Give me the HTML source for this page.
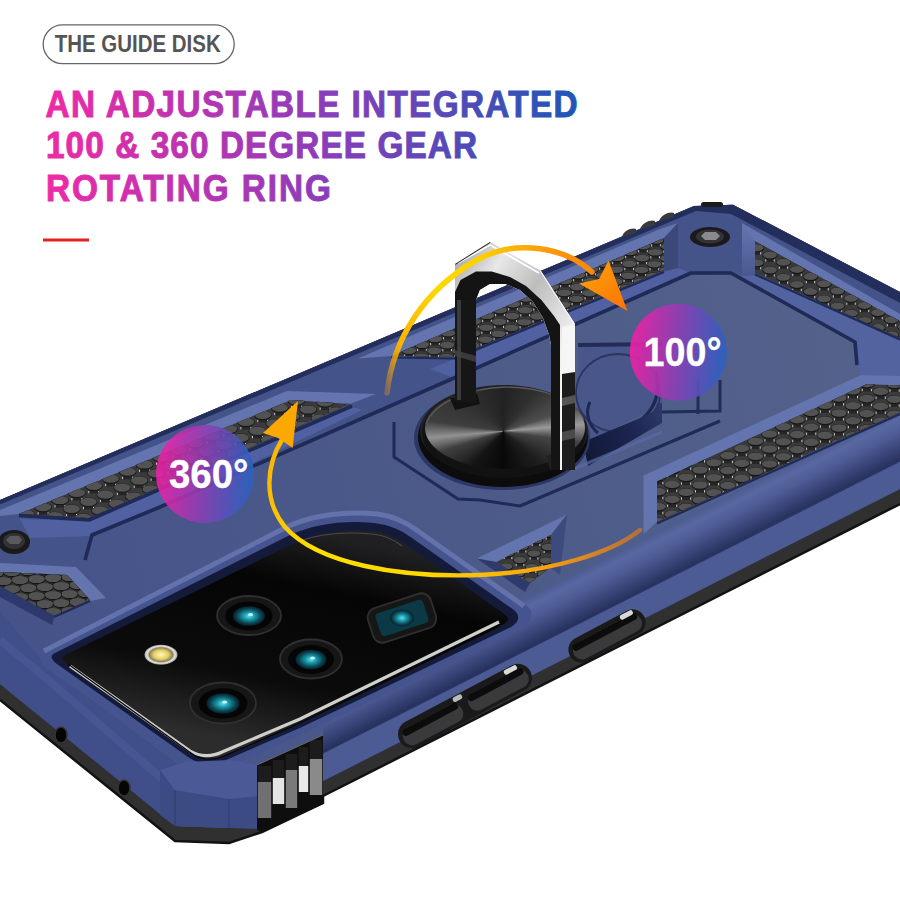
<!DOCTYPE html>
<html><head><meta charset="utf-8">
<style>
html,body{margin:0;padding:0;background:#fff;}
body{width:900px;height:900px;overflow:hidden;}
svg{display:block;font-family:"Liberation Sans",sans-serif;}
</style></head>
<body>
<svg width="900" height="900" viewBox="0 0 900 900">
<defs>
  <linearGradient id="tg" gradientUnits="userSpaceOnUse" x1="51.1" y1="0" x2="642.2" y2="0">
    <stop offset="0" stop-color="#ef2aa6"/>
    <stop offset="0.5" stop-color="#8f3cba"/>
    <stop offset="1" stop-color="#1f56b6"/>
  </linearGradient>
  <linearGradient id="cg" x1="0" y1="0.45" x2="1" y2="0.55">
    <stop offset="0.05" stop-color="#ea22a6"/>
    <stop offset="0.5" stop-color="#8a3fb5"/>
    <stop offset="0.95" stop-color="#2f60c0"/>
  </linearGradient>
  <pattern id="hex" patternUnits="userSpaceOnUse" width="27.8" height="15.0" patternTransform="translate(0,0)"><rect width="27.8" height="15.0" fill="#232323"/><path d="M-7.20,-7.50 L-5.40,-2.30 L5.40,-2.30 L7.20,-7.50 Z" fill="#3a3a3a"/><rect x="-5.80" y="-4.50" width="0.9" height="2.4" fill="#d8d8d8"/><rect x="4.90" y="-4.50" width="0.9" height="2.4" fill="#d8d8d8"/><ellipse cx="0.00" cy="-7.50" rx="7.7" ry="4.1" fill="#595959"/><path d="M20.60,-7.50 L22.40,-2.30 L33.20,-2.30 L35.00,-7.50 Z" fill="#3a3a3a"/><rect x="22.00" y="-4.50" width="0.9" height="2.4" fill="#d8d8d8"/><rect x="32.70" y="-4.50" width="0.9" height="2.4" fill="#d8d8d8"/><ellipse cx="27.80" cy="-7.50" rx="7.7" ry="4.1" fill="#595959"/><path d="M6.70,0.00 L8.50,5.20 L19.30,5.20 L21.10,0.00 Z" fill="#3a3a3a"/><rect x="8.10" y="3.00" width="0.9" height="2.4" fill="#d8d8d8"/><rect x="18.80" y="3.00" width="0.9" height="2.4" fill="#d8d8d8"/><ellipse cx="13.90" cy="0.00" rx="7.7" ry="4.1" fill="#595959"/><path d="M-7.20,7.50 L-5.40,12.70 L5.40,12.70 L7.20,7.50 Z" fill="#3a3a3a"/><rect x="-5.80" y="10.50" width="0.9" height="2.4" fill="#d8d8d8"/><rect x="4.90" y="10.50" width="0.9" height="2.4" fill="#d8d8d8"/><ellipse cx="0.00" cy="7.50" rx="7.7" ry="4.1" fill="#595959"/><path d="M20.60,7.50 L22.40,12.70 L33.20,12.70 L35.00,7.50 Z" fill="#3a3a3a"/><rect x="22.00" y="10.50" width="0.9" height="2.4" fill="#d8d8d8"/><rect x="32.70" y="10.50" width="0.9" height="2.4" fill="#d8d8d8"/><ellipse cx="27.80" cy="7.50" rx="7.7" ry="4.1" fill="#595959"/><path d="M6.70,15.00 L8.50,20.20 L19.30,20.20 L21.10,15.00 Z" fill="#3a3a3a"/><rect x="8.10" y="18.00" width="0.9" height="2.4" fill="#d8d8d8"/><rect x="18.80" y="18.00" width="0.9" height="2.4" fill="#d8d8d8"/><ellipse cx="13.90" cy="15.00" rx="7.7" ry="4.1" fill="#595959"/></pattern>
  <pattern id="hex2" patternUnits="userSpaceOnUse" width="27.8" height="15.0" patternTransform="translate(3,2)"><rect width="27.8" height="15.0" fill="#232323"/><path d="M-7.20,-7.50 L-5.40,-2.30 L5.40,-2.30 L7.20,-7.50 Z" fill="#3a3a3a"/><rect x="-5.80" y="-4.50" width="0.9" height="2.4" fill="#d8d8d8"/><rect x="4.90" y="-4.50" width="0.9" height="2.4" fill="#d8d8d8"/><ellipse cx="0.00" cy="-7.50" rx="7.7" ry="4.1" fill="#595959"/><path d="M20.60,-7.50 L22.40,-2.30 L33.20,-2.30 L35.00,-7.50 Z" fill="#3a3a3a"/><rect x="22.00" y="-4.50" width="0.9" height="2.4" fill="#d8d8d8"/><rect x="32.70" y="-4.50" width="0.9" height="2.4" fill="#d8d8d8"/><ellipse cx="27.80" cy="-7.50" rx="7.7" ry="4.1" fill="#595959"/><path d="M6.70,0.00 L8.50,5.20 L19.30,5.20 L21.10,0.00 Z" fill="#3a3a3a"/><rect x="8.10" y="3.00" width="0.9" height="2.4" fill="#d8d8d8"/><rect x="18.80" y="3.00" width="0.9" height="2.4" fill="#d8d8d8"/><ellipse cx="13.90" cy="0.00" rx="7.7" ry="4.1" fill="#595959"/><path d="M-7.20,7.50 L-5.40,12.70 L5.40,12.70 L7.20,7.50 Z" fill="#3a3a3a"/><rect x="-5.80" y="10.50" width="0.9" height="2.4" fill="#d8d8d8"/><rect x="4.90" y="10.50" width="0.9" height="2.4" fill="#d8d8d8"/><ellipse cx="0.00" cy="7.50" rx="7.7" ry="4.1" fill="#595959"/><path d="M20.60,7.50 L22.40,12.70 L33.20,12.70 L35.00,7.50 Z" fill="#3a3a3a"/><rect x="22.00" y="10.50" width="0.9" height="2.4" fill="#d8d8d8"/><rect x="32.70" y="10.50" width="0.9" height="2.4" fill="#d8d8d8"/><ellipse cx="27.80" cy="7.50" rx="7.7" ry="4.1" fill="#595959"/><path d="M6.70,15.00 L8.50,20.20 L19.30,20.20 L21.10,15.00 Z" fill="#3a3a3a"/><rect x="8.10" y="18.00" width="0.9" height="2.4" fill="#d8d8d8"/><rect x="18.80" y="18.00" width="0.9" height="2.4" fill="#d8d8d8"/><ellipse cx="13.90" cy="15.00" rx="7.7" ry="4.1" fill="#595959"/></pattern>
  <linearGradient id="faceg" gradientUnits="userSpaceOnUse" x1="0" y1="600" x2="900" y2="350">
    <stop offset="0" stop-color="#45538a"/>
    <stop offset="0.5" stop-color="#4c5a89"/>
    <stop offset="1" stop-color="#54628b"/>
  </linearGradient>
  <linearGradient id="sideg" gradientUnits="userSpaceOnUse" x1="600" y1="559.9" x2="620.9" y2="601.3">
    <stop offset="0" stop-color="#4b5990"/>
    <stop offset="0.2" stop-color="#5a68a2"/>
    <stop offset="0.45" stop-color="#4e5c95"/>
    <stop offset="1" stop-color="#27315f"/>
  </linearGradient>
  <linearGradient id="glassg" gradientUnits="userSpaceOnUse" x1="300" y1="530" x2="255" y2="745">
    <stop offset="0" stop-color="#202022"/>
    <stop offset="0.25" stop-color="#050505"/>
    <stop offset="0.7" stop-color="#0b0b0b"/>
    <stop offset="1" stop-color="#2c2c2c"/>
  </linearGradient>
  <radialGradient id="lensg">
    <stop offset="0" stop-color="#5fe0ee"/>
    <stop offset="0.35" stop-color="#1b9aac"/>
    <stop offset="0.75" stop-color="#0a4654"/>
    <stop offset="1" stop-color="#06202a"/>
  </radialGradient>
  <radialGradient id="flashg">
    <stop offset="0" stop-color="#fff8c0"/>
    <stop offset="0.45" stop-color="#e6d060"/>
    <stop offset="0.7" stop-color="#8a8060"/>
    <stop offset="0.85" stop-color="#e8e8e0"/>
    <stop offset="1" stop-color="#9a9a9a"/>
  </radialGradient>
  <linearGradient id="a1g" gradientUnits="userSpaceOnUse" x1="387" y1="392" x2="620" y2="290">
    <stop offset="0" stop-color="#f7a000" stop-opacity="0.3"/>
    <stop offset="0.12" stop-color="#f9b400"/>
    <stop offset="0.35" stop-color="#ffd800"/>
    <stop offset="0.55" stop-color="#fdd000"/>
    <stop offset="0.8" stop-color="#fb9a0a"/>
    <stop offset="1" stop-color="#fb7d0a"/>
  </linearGradient>
  <linearGradient id="a2g" gradientUnits="userSpaceOnUse" x1="270" y1="420" x2="640" y2="540">
    <stop offset="0" stop-color="#fbb000"/>
    <stop offset="0.22" stop-color="#ffe000"/>
    <stop offset="0.5" stop-color="#ffd800"/>
    <stop offset="0.8" stop-color="#f8a010"/>
    <stop offset="1" stop-color="#f07a10" stop-opacity="0.6"/>
  </linearGradient>
  <linearGradient id="wallg" gradientUnits="userSpaceOnUse" x1="585" y1="450" x2="662" y2="415">
    <stop offset="0" stop-color="#121938"/>
    <stop offset="0.6" stop-color="#1c2550"/>
    <stop offset="1" stop-color="#2d3868"/>
  </linearGradient>
  <linearGradient id="ahg" gradientUnits="userSpaceOnUse" x1="590" y1="272" x2="627" y2="311">
    <stop offset="0" stop-color="#fd9a08"/>
    <stop offset="1" stop-color="#fb7206"/>
  </linearGradient>
  <linearGradient id="trwall" x1="0" y1="0" x2="0" y2="1">
    <stop offset="0" stop-color="#6676b0"/>
    <stop offset="1" stop-color="#4a5890"/>
  </linearGradient>
  <linearGradient id="silv" gradientUnits="userSpaceOnUse" x1="455" y1="250" x2="575" y2="330">
    <stop offset="0" stop-color="#a0a0a0"/>
    <stop offset="0.3" stop-color="#e8e8e8"/>
    <stop offset="0.6" stop-color="#bdbdbd"/>
    <stop offset="1" stop-color="#f2f2f2"/>
  </linearGradient>
<g id="dTL"><path d="M-6.23,0 L-4.57,7.70 L4.57,7.70 L6.23,0 Z" fill="#262626"/><rect x="-5.43" y="5.10" width="0.9" height="2.3" fill="#dadada"/><rect x="4.53" y="5.10" width="0.9" height="2.3" fill="#dadada"/><ellipse cx="0" cy="0.4" rx="8.90" ry="4.70" fill="#151515"/><ellipse cx="0" cy="0" rx="8.30" ry="4.10" fill="#525252"/></g><g id="dM"><path d="M-5.40,0 L-3.96,6.50 L3.96,6.50 L5.40,0 Z" fill="#262626"/><rect x="-4.77" y="3.90" width="0.9" height="2.3" fill="#dadada"/><rect x="3.87" y="3.90" width="0.9" height="2.3" fill="#dadada"/><ellipse cx="0" cy="0.4" rx="7.80" ry="3.90" fill="#151515"/><ellipse cx="0" cy="0" rx="7.20" ry="3.30" fill="#525252"/></g><g id="dR"><path d="M-5.70,0 L-4.18,7.80 L4.18,7.80 L5.70,0 Z" fill="#262626"/><rect x="-5.01" y="5.20" width="0.9" height="2.3" fill="#dadada"/><rect x="4.11" y="5.20" width="0.9" height="2.3" fill="#dadada"/><ellipse cx="0" cy="0.4" rx="8.20" ry="4.40" fill="#151515"/><ellipse cx="0" cy="0" rx="7.60" ry="3.80" fill="#525252"/></g><g id="dTR"><path d="M-5.25,0 L-3.85,6.90 L3.85,6.90 L5.25,0 Z" fill="#262626"/><rect x="-4.65" y="4.30" width="0.9" height="2.3" fill="#dadada"/><rect x="3.75" y="4.30" width="0.9" height="2.3" fill="#dadada"/><ellipse cx="0" cy="0.4" rx="7.60" ry="4.10" fill="#151515"/><ellipse cx="0" cy="0" rx="7.00" ry="3.50" fill="#525252"/></g><g id="dS"><path d="M-4.80,0 L-3.52,6.30 L3.52,6.30 L4.80,0 Z" fill="#262626"/><rect x="-4.29" y="3.70" width="0.9" height="2.3" fill="#dadada"/><rect x="3.39" y="3.70" width="0.9" height="2.3" fill="#dadada"/><ellipse cx="0" cy="0.4" rx="7.00" ry="3.90" fill="#151515"/><ellipse cx="0" cy="0" rx="6.40" ry="3.30" fill="#525252"/></g></defs>

<rect x="43.2" y="24.9" width="191" height="38.8" rx="19.4" fill="#fff" stroke="#666" stroke-width="1.3"/>
<text x="54.7" y="51.6" font-size="23.2" font-weight="bold" fill="#555" textLength="166" lengthAdjust="spacingAndGlyphs">THE GUIDE DISK</text>
<g font-size="37" font-weight="bold" fill="url(#tg)" stroke="url(#tg)" stroke-width="1.0" transform="scale(0.9,1)">
  <text x="50.67" y="116.7" textLength="591.11" lengthAdjust="spacing">AN ADJUSTABLE INTEGRATED</text>
  <text x="51.11" y="158.3" textLength="478.89" lengthAdjust="spacing">100 &amp; 360 DEGREE GEAR</text>
  <text x="51.11" y="200.6" textLength="316.67" lengthAdjust="spacing">ROTATING RING</text>
</g>
<rect x="43" y="238.5" width="46" height="3" fill="#e3201f"/>

<!-- silhouette / black bumper -->
<path d="M0,500 L694,206 L733,204.7 L900,292 L900,504 L323,796 L323,803 L262,832 L229,843 L175,841 L0,700 Z" fill="#303031"/>
<path d="M900,504 L323,796 L323,803 L262,832 L229,843 L175,841 L0,700" fill="none" stroke="#121212" stroke-width="2.5"/>
<!-- blue body -->
<path d="M0,500 L694,206 L733,204.7 L900,292 L900,489 L323,781 L262,800 L229,828 L175,826 L0,684 Z" fill="url(#faceg)"/>
<!-- side shading band along bottom -->
<path d="M900,409 L323,701 L323,781 L900,489 Z" fill="url(#sideg)"/>
<!-- lip -->
<path d="M900,461 L323,753 L323,781 L900,489 Z" fill="#4d5b95"/>
<path d="M900,461 L323,753" fill="none" stroke="#2c3666" stroke-width="1.2"/>
<!-- left side face -->
<path d="M0,612 L48,667 L178,764 L229,760 L262,765 L262,800 L229,828 L175,826 L0,684 Z" fill="#404e8a"/>
<path d="M0,640 L60,690 L175,790" fill="none" stroke="#4c5c98" stroke-width="8" opacity="0.6"/>
<!-- top rim: navy outline + medium band -->
<path d="M0,504.5 L696,211 L731,214 L900,303 L900,375.6 L861,375 L857,365 L855,342 L731,273 L691,273 L454,378 L160,507 L92,535 L85,560 L0,562 Z" fill="#45538b"/>
<path d="M0,500 L694,206 L733,204.7 L900,292 L900,303 L731,214 L696,211 L0,504.5 Z" fill="#242e5c"/>
<!-- light bevels -->
<g fill="#6474ae">
<path d="M0,510 L287,391 L376,394 L350,404 L291,400 L19,514 L0,516 Z"/>
<path d="M358,358.5 L660,229 L678,223 L664,238 L391,356 Z"/>
<path d="M742,223 L900,314 L900,321 L755,241 L742,240 Z"/>
<path d="M0,563 L76,567 L106,598 L90,601 L67,575 L0,572 Z"/>
<path d="M643.5,475.5 L861,375 L900,375.6 L900,385.5 L867,384 L657,481.5 L657,522 L643.5,534 Z"/>
<path d="M476.6,558.5 L567,514.5 L551,535 L496,562 Z"/>
</g>
<path d="M664,238 L678,223 L678,268 L664,270.5 Z" fill="#3b4878"/>
<path d="M742,223 L755,241 L755,273 L742,276 Z" fill="url(#trwall)"/>
<path d="M567,514.5 L560,575 L551,568 L551,535 Z" fill="#3d4a7e"/>
<path d="M476.6,558.5 L496,562 L530,583 L525,592 Z" fill="#2f3a6c"/>
<path d="M20,519 L89,521 L352,407 L362,410 L160,508 L92,536 L30,538 Z" fill="#5060a0"/>
<path d="M742,276 L755,275 L900,341 L900,375.6 L861,375 L857,365 L855,342 L732,272 Z" fill="#5363a0"/>
<path d="M430,369 L455,358.5 L664,272 L678,268 L691,273 L454,378 Z" fill="#5060a0"/>
<!-- hex strips -->
<clipPath id="cp_TL"><polygon points="19.00,514.00 291.00,400.00 350.00,404.00 89.00,518.00"/></clipPath><g clip-path="url(#cp_TL)"><polygon points="19.00,514.00 291.00,400.00 350.00,404.00 89.00,518.00" fill="#3a3a3a"/><use href="#dTL" x="296.6" y="400.6"/><use href="#dTL" x="325.1" y="402.4"/><use href="#dTL" x="353.6" y="404.2"/><use href="#dTL" x="279.7" y="407.7"/><use href="#dTL" x="308.2" y="409.5"/><use href="#dTL" x="336.7" y="411.3"/><use href="#dTL" x="262.8" y="414.8"/><use href="#dTL" x="291.3" y="416.6"/><use href="#dTL" x="319.8" y="418.4"/><use href="#dTL" x="245.9" y="421.9"/><use href="#dTL" x="274.4" y="423.7"/><use href="#dTL" x="302.9" y="425.5"/><use href="#dTL" x="229.0" y="429.0"/><use href="#dTL" x="257.5" y="430.8"/><use href="#dTL" x="286.0" y="432.6"/><use href="#dTL" x="212.1" y="436.1"/><use href="#dTL" x="240.6" y="437.9"/><use href="#dTL" x="269.1" y="439.7"/><use href="#dTL" x="195.2" y="443.2"/><use href="#dTL" x="223.7" y="445.0"/><use href="#dTL" x="252.2" y="446.8"/><use href="#dTL" x="178.3" y="450.3"/><use href="#dTL" x="206.8" y="452.1"/><use href="#dTL" x="235.3" y="453.9"/><use href="#dTL" x="161.4" y="457.4"/><use href="#dTL" x="189.9" y="459.2"/><use href="#dTL" x="218.4" y="461.0"/><use href="#dTL" x="144.5" y="464.5"/><use href="#dTL" x="173.0" y="466.3"/><use href="#dTL" x="201.5" y="468.1"/><use href="#dTL" x="127.6" y="471.6"/><use href="#dTL" x="156.1" y="473.4"/><use href="#dTL" x="184.6" y="475.2"/><use href="#dTL" x="110.7" y="478.7"/><use href="#dTL" x="139.2" y="480.5"/><use href="#dTL" x="167.7" y="482.3"/><use href="#dTL" x="93.8" y="485.8"/><use href="#dTL" x="122.3" y="487.6"/><use href="#dTL" x="150.8" y="489.4"/><use href="#dTL" x="76.9" y="492.9"/><use href="#dTL" x="105.4" y="494.7"/><use href="#dTL" x="133.9" y="496.5"/><use href="#dTL" x="60.0" y="500.0"/><use href="#dTL" x="88.5" y="501.8"/><use href="#dTL" x="117.0" y="503.6"/><use href="#dTL" x="43.1" y="507.1"/><use href="#dTL" x="71.6" y="508.9"/><use href="#dTL" x="100.1" y="510.7"/><use href="#dTL" x="26.2" y="514.2"/><use href="#dTL" x="54.7" y="516.0"/><use href="#dTL" x="83.2" y="517.8"/></g>
<clipPath id="cp_M"><polygon points="391.00,356.00 664.00,238.00 664.00,270.50 455.00,357.00"/></clipPath><g clip-path="url(#cp_M)"><polygon points="391.00,356.00 664.00,238.00 664.00,270.50 455.00,357.00" fill="#3a3a3a"/><use href="#dM" x="656.0" y="240.4"/><use href="#dM" x="643.0" y="246.2"/><use href="#dM" x="668.2" y="246.5"/><use href="#dM" x="630.0" y="252.0"/><use href="#dM" x="655.2" y="252.3"/><use href="#dM" x="617.0" y="257.8"/><use href="#dM" x="642.2" y="258.1"/><use href="#dM" x="667.4" y="258.4"/><use href="#dM" x="604.0" y="263.6"/><use href="#dM" x="629.2" y="263.9"/><use href="#dM" x="654.4" y="264.2"/><use href="#dM" x="591.0" y="269.4"/><use href="#dM" x="616.2" y="269.7"/><use href="#dM" x="641.4" y="270.0"/><use href="#dM" x="666.6" y="270.3"/><use href="#dM" x="578.0" y="275.2"/><use href="#dM" x="603.2" y="275.5"/><use href="#dM" x="628.4" y="275.8"/><use href="#dM" x="653.6" y="276.1"/><use href="#dM" x="565.0" y="281.0"/><use href="#dM" x="590.2" y="281.3"/><use href="#dM" x="615.4" y="281.6"/><use href="#dM" x="640.6" y="281.9"/><use href="#dM" x="552.0" y="286.8"/><use href="#dM" x="577.2" y="287.1"/><use href="#dM" x="602.4" y="287.4"/><use href="#dM" x="627.6" y="287.7"/><use href="#dM" x="539.0" y="292.6"/><use href="#dM" x="564.2" y="292.9"/><use href="#dM" x="589.4" y="293.2"/><use href="#dM" x="614.6" y="293.5"/><use href="#dM" x="526.0" y="298.4"/><use href="#dM" x="551.2" y="298.7"/><use href="#dM" x="576.4" y="299.0"/><use href="#dM" x="601.6" y="299.3"/><use href="#dM" x="513.0" y="304.2"/><use href="#dM" x="538.2" y="304.5"/><use href="#dM" x="563.4" y="304.8"/><use href="#dM" x="588.6" y="305.1"/><use href="#dM" x="500.0" y="310.0"/><use href="#dM" x="525.2" y="310.3"/><use href="#dM" x="550.4" y="310.6"/><use href="#dM" x="487.0" y="315.8"/><use href="#dM" x="512.2" y="316.1"/><use href="#dM" x="537.4" y="316.4"/><use href="#dM" x="474.0" y="321.6"/><use href="#dM" x="499.2" y="321.9"/><use href="#dM" x="524.4" y="322.2"/><use href="#dM" x="461.0" y="327.4"/><use href="#dM" x="486.2" y="327.7"/><use href="#dM" x="511.4" y="328.0"/><use href="#dM" x="448.0" y="333.2"/><use href="#dM" x="473.2" y="333.5"/><use href="#dM" x="498.4" y="333.8"/><use href="#dM" x="435.0" y="339.0"/><use href="#dM" x="460.2" y="339.3"/><use href="#dM" x="485.4" y="339.6"/><use href="#dM" x="422.0" y="344.8"/><use href="#dM" x="447.2" y="345.1"/><use href="#dM" x="472.4" y="345.4"/><use href="#dM" x="409.0" y="350.6"/><use href="#dM" x="434.2" y="350.9"/><use href="#dM" x="459.4" y="351.2"/><use href="#dM" x="421.2" y="356.7"/><use href="#dM" x="446.4" y="357.0"/></g>
<clipPath id="cp_R"><polygon points="657.00,481.50 867.00,384.00 900.00,385.50 900.00,412.50 657.00,522.00"/></clipPath><g clip-path="url(#cp_R)"><polygon points="657.00,481.50 867.00,384.00 900.00,385.50 900.00,412.50 657.00,522.00" fill="#3a3a3a"/><use href="#dR" x="866.8" y="383.6"/><use href="#dR" x="894.6" y="384.2"/><use href="#dR" x="852.9" y="390.8"/><use href="#dR" x="880.7" y="391.4"/><use href="#dR" x="839.0" y="398.0"/><use href="#dR" x="866.8" y="398.6"/><use href="#dR" x="894.6" y="399.2"/><use href="#dR" x="825.1" y="405.2"/><use href="#dR" x="852.9" y="405.8"/><use href="#dR" x="880.7" y="406.4"/><use href="#dR" x="811.2" y="412.4"/><use href="#dR" x="839.0" y="413.0"/><use href="#dR" x="866.8" y="413.6"/><use href="#dR" x="894.6" y="414.2"/><use href="#dR" x="797.3" y="419.6"/><use href="#dR" x="825.1" y="420.2"/><use href="#dR" x="852.9" y="420.8"/><use href="#dR" x="880.7" y="421.4"/><use href="#dR" x="783.4" y="426.8"/><use href="#dR" x="811.2" y="427.4"/><use href="#dR" x="839.0" y="428.0"/><use href="#dR" x="866.8" y="428.6"/><use href="#dR" x="769.5" y="434.0"/><use href="#dR" x="797.3" y="434.6"/><use href="#dR" x="825.1" y="435.2"/><use href="#dR" x="852.9" y="435.8"/><use href="#dR" x="755.6" y="441.2"/><use href="#dR" x="783.4" y="441.8"/><use href="#dR" x="811.2" y="442.4"/><use href="#dR" x="839.0" y="443.0"/><use href="#dR" x="741.7" y="448.4"/><use href="#dR" x="769.5" y="449.0"/><use href="#dR" x="797.3" y="449.6"/><use href="#dR" x="700.0" y="455.0"/><use href="#dR" x="727.8" y="455.6"/><use href="#dR" x="755.6" y="456.2"/><use href="#dR" x="783.4" y="456.8"/><use href="#dR" x="686.1" y="462.2"/><use href="#dR" x="713.9" y="462.8"/><use href="#dR" x="741.7" y="463.4"/><use href="#dR" x="769.5" y="464.0"/><use href="#dR" x="672.2" y="469.4"/><use href="#dR" x="700.0" y="470.0"/><use href="#dR" x="727.8" y="470.6"/><use href="#dR" x="755.6" y="471.2"/><use href="#dR" x="658.3" y="476.6"/><use href="#dR" x="686.1" y="477.2"/><use href="#dR" x="713.9" y="477.8"/><use href="#dR" x="741.7" y="478.4"/><use href="#dR" x="672.2" y="484.4"/><use href="#dR" x="700.0" y="485.0"/><use href="#dR" x="727.8" y="485.6"/><use href="#dR" x="658.3" y="491.6"/><use href="#dR" x="686.1" y="492.2"/><use href="#dR" x="713.9" y="492.8"/><use href="#dR" x="672.2" y="499.4"/><use href="#dR" x="700.0" y="500.0"/><use href="#dR" x="658.3" y="506.6"/><use href="#dR" x="686.1" y="507.2"/><use href="#dR" x="672.2" y="514.4"/><use href="#dR" x="658.3" y="521.6"/></g>
<clipPath id="cp_TR"><polygon points="755.00,241.00 900.00,321.00 900.00,338.00 755.00,273.00"/></clipPath><g clip-path="url(#cp_TR)"><polygon points="755.00,241.00 900.00,321.00 900.00,338.00 755.00,273.00" fill="#3a3a3a"/><use href="#dTR" x="756.5" y="247.8"/><use href="#dTR" x="770.0" y="255.0"/><use href="#dTR" x="783.5" y="262.2"/><use href="#dTR" x="756.5" y="262.8"/><use href="#dTR" x="797.0" y="269.4"/><use href="#dTR" x="770.0" y="270.0"/><use href="#dTR" x="810.5" y="276.6"/><use href="#dTR" x="783.5" y="277.2"/><use href="#dTR" x="824.0" y="283.8"/><use href="#dTR" x="797.0" y="284.4"/><use href="#dTR" x="837.5" y="291.0"/><use href="#dTR" x="810.5" y="291.6"/><use href="#dTR" x="851.0" y="298.2"/><use href="#dTR" x="824.0" y="298.8"/><use href="#dTR" x="864.5" y="305.4"/><use href="#dTR" x="837.5" y="306.0"/><use href="#dTR" x="878.0" y="312.6"/><use href="#dTR" x="851.0" y="313.2"/><use href="#dTR" x="891.5" y="319.8"/><use href="#dTR" x="864.5" y="320.4"/><use href="#dTR" x="905.0" y="327.0"/><use href="#dTR" x="878.0" y="327.6"/><use href="#dTR" x="891.5" y="334.8"/></g>
<clipPath id="cp_LL"><polygon points="0.00,572.00 67.00,575.00 90.00,600.00 54.00,616.00 0.00,588.00"/></clipPath><g clip-path="url(#cp_LL)"><polygon points="0.00,572.00 67.00,575.00 90.00,600.00 54.00,616.00 0.00,588.00" fill="#3a3a3a"/><use href="#dTL" x="61.2" y="569.0"/><use href="#dTL" x="44.8" y="570.0"/><use href="#dTL" x="28.2" y="571.0"/><use href="#dTL" x="11.8" y="572.0"/><use href="#dTL" x="-4.8" y="573.0"/><use href="#dTL" x="69.5" y="577.0"/><use href="#dTL" x="53.0" y="578.0"/><use href="#dTL" x="36.5" y="579.0"/><use href="#dTL" x="20.0" y="580.0"/><use href="#dTL" x="3.5" y="581.0"/><use href="#dTL" x="77.8" y="585.0"/><use href="#dTL" x="61.2" y="586.0"/><use href="#dTL" x="44.8" y="587.0"/><use href="#dTL" x="28.2" y="588.0"/><use href="#dTL" x="11.8" y="589.0"/><use href="#dTL" x="86.0" y="593.0"/><use href="#dTL" x="69.5" y="594.0"/><use href="#dTL" x="53.0" y="595.0"/><use href="#dTL" x="36.5" y="596.0"/><use href="#dTL" x="20.0" y="597.0"/><use href="#dTL" x="94.2" y="601.0"/><use href="#dTL" x="77.8" y="602.0"/><use href="#dTL" x="61.2" y="603.0"/><use href="#dTL" x="44.8" y="604.0"/><use href="#dTL" x="28.2" y="605.0"/><use href="#dTL" x="69.5" y="611.0"/><use href="#dTL" x="53.0" y="612.0"/></g>
<clipPath id="cp_S"><polygon points="496.00,562.00 551.00,535.00 551.00,567.00 530.00,583.00"/></clipPath><g clip-path="url(#cp_S)"><polygon points="496.00,562.00 551.00,535.00 551.00,567.00 530.00,583.00" fill="#3a3a3a"/><use href="#dS" x="550.0" y="533.5"/><use href="#dS" x="536.0" y="540.0"/><use href="#dS" x="522.0" y="546.5"/><use href="#dS" x="548.0" y="547.0"/><use href="#dS" x="508.0" y="553.0"/><use href="#dS" x="534.0" y="553.5"/><use href="#dS" x="520.0" y="560.0"/><use href="#dS" x="546.0" y="560.5"/><use href="#dS" x="506.0" y="566.5"/><use href="#dS" x="532.0" y="567.0"/><use href="#dS" x="518.0" y="573.5"/><use href="#dS" x="544.0" y="574.0"/><use href="#dS" x="530.0" y="580.5"/></g>
<!-- grooves -->
<g fill="none" stroke="#1f2a56" stroke-width="2.2" stroke-linejoin="round">
<path d="M19,515.5 L89,520 L352,406" stroke-width="3.6"/>
<path d="M391,357.5 L455,358.5 L664,272"/>
<path d="M755,274.5 L900,339.5"/>
<path d="M657,523.5 L900,414"/>
<path d="M54,617 L90,601"/>
<path d="M0,586 L55,616 L52,625 L0,597 Z" fill="#2d386c" stroke="none"/>

<path d="M85,560 L92,535 L160,507 L454,378 L691,273 L731,273 L855,342 L857,365" stroke-width="3.6"/>

<path d="M394,422 L394,457 L458,499 L480,500" stroke-width="3"/>
<path d="M480,500 L520,506 L720,421" stroke-width="3"/>

</g>
<!-- ===== camera bump ===== -->
<path d="M42,651 L281,529 C310,513 350,510 378,513 C396,515 408,521 420,530 L527,606 C535,612 532,622 522,629 L304,733 L228,768 C214,774 196,773 184,764 L46,668 C40,663 38,655 42,651 Z" fill="#45548f"/>
<path d="M44,651 L283,529 C311,514 349,511 377,514 C394,516 406,522 418,531 L524,606" fill="none" stroke="#6472ab" stroke-width="5"/>
<path d="M53,654 L286,537 C313,523 347,520 374,523 C390,525 401,530 412,538 L514,610 C521,616 519,622 511,627 L302,727 L226,760 C214,766 199,765 188,757 L57,664 C52,660 50,657 53,654 Z" fill="#141b3a"/>
<path d="M63,656 L290,545 C315,532 345,529 372,531 C385,532 395,537 405,544 L503,613 C511,619 509,622 500,626 L300,723 L224,756 C213,761 200,760 191,753 L68,664 C62,660 60,658 63,656 Z" fill="url(#glassg)"/>
<path d="M70,666 L190,751 C200,757 212,757 222,752 L300,719 L499,622" fill="none" stroke="#cfcfcb" stroke-width="3.2"/><path d="M68,664 L191,753 C200,760 213,761 224,756 L300,723 L500,626" fill="none" stroke="#050505" stroke-width="1.2"/>
<path d="M300,541 C322,533 350,532 372,534 C385,535 393,539 402,546" fill="none" stroke="#4a4a4c" stroke-width="1.2"/>
<!-- lenses -->
<g>
<ellipse cx="249" cy="615.5" rx="32" ry="19.5" fill="#161616" stroke="#303030" stroke-width="1.8"/><ellipse cx="249" cy="616.0" rx="23.7" ry="14.4" fill="#050505"/><ellipse cx="249" cy="616.0" rx="16.0" ry="9.8" fill="url(#lensg)"/><ellipse cx="250.6" cy="614.5" rx="2.6" ry="1.6" fill="#e8ffff" opacity="0.8"/>
<ellipse cx="311" cy="659" rx="31" ry="19.5" fill="#161616" stroke="#303030" stroke-width="1.8"/><ellipse cx="311" cy="659.5" rx="22.9" ry="14.4" fill="#050505"/><ellipse cx="311" cy="659.5" rx="15.5" ry="9.8" fill="url(#lensg)"/><ellipse cx="312.6" cy="658.0" rx="2.5" ry="1.6" fill="#e8ffff" opacity="0.8"/>
<ellipse cx="223" cy="703" rx="33" ry="20.5" fill="#161616" stroke="#303030" stroke-width="1.8"/><ellipse cx="223" cy="703.5" rx="24.4" ry="15.2" fill="#050505"/><ellipse cx="223" cy="703.5" rx="16.5" ry="10.2" fill="url(#lensg)"/><ellipse cx="224.7" cy="702.0" rx="2.6" ry="1.6" fill="#e8ffff" opacity="0.8"/>
  <g transform="translate(402,618) rotate(-18)">
    <rect x="-33" y="-18" width="66" height="36" rx="10" fill="#161616" stroke="#303030" stroke-width="1.8"/>
    <rect x="-25" y="-12" width="50" height="24" rx="4" fill="#0b3a46"/>
  </g>
  <ellipse cx="402" cy="618" rx="12" ry="8.5" fill="url(#lensg)"/>
  <ellipse cx="161" cy="654.7" rx="16.5" ry="10" fill="url(#flashg)"/>
</g>
<!-- ===== buttons ===== -->
<g transform="translate(607,636) rotate(-28)">
  <rect x="-42" y="-13" width="84" height="26" rx="13" fill="#1a1a1a"/>
  <rect x="-38" y="-8" width="76" height="18" rx="9" fill="#3a3a3c"/>
  <rect x="-36" y="-8" width="72" height="7" rx="3.5" fill="#0c0c0c"/>
  <rect x="20" y="-12" width="14" height="5" rx="2" fill="#d8d8d8"/>
</g>
<g transform="translate(465,706) rotate(-28)">
  <rect x="-74" y="-14" width="148" height="28" rx="14" fill="#1a1a1a"/>
  <rect x="-70" y="-8" width="66" height="19" rx="9" fill="#3a3a3c"/>
  <rect x="4" y="-8" width="66" height="19" rx="9" fill="#3a3a3c"/>
  <rect x="-68" y="-8" width="62" height="7" rx="3.5" fill="#0c0c0c"/>
  <rect x="6" y="-8" width="62" height="7" rx="3.5" fill="#0c0c0c"/>
  <rect x="50" y="-13" width="14" height="5" rx="2" fill="#d8d8d8"/>
  <rect x="-8" y="-13" width="10" height="5" rx="2" fill="#bbbbbb"/>
</g>
<!-- holes -->
<ellipse cx="61" cy="735" rx="6" ry="8" fill="#050505" stroke="#333" stroke-width="1.5"/>
<ellipse cx="124" cy="788" rx="6" ry="8" fill="#050505" stroke="#333" stroke-width="1.5"/>
<!-- corner facets -->
<path d="M160,770 L175,790 L229,799 L258,796 L258,829 L229,828 L175,826 L160,815 Z" fill="#3d4b84"/>
<path d="M160,770 L185,762 L230,760 L262,765 L258,796 L229,799 L175,790 Z" fill="#4b5a96"/>
<path d="M229,799 L229,828 M175,790 L175,826" stroke="#33406f" stroke-width="1.5"/>
<!-- grip stripes -->
<g>
<path d="M257,765 L323,735 L323,804 L262,832 L257,830 Z" fill="#0e0e0e"/>
<rect x="257.8" y="782" width="13.4" height="36" fill="#707070"/>
<rect x="257.8" y="766" width="13.4" height="16" fill="#1c1c1c"/>
<rect x="272.8" y="778" width="11.4" height="26" fill="#e4e4e4"/>
<rect x="272.8" y="760" width="11.4" height="18" fill="#1c1c1c"/>
<rect x="285.8" y="770" width="11.4" height="38" fill="#7a7a7a"/>
<rect x="285.8" y="754" width="11.4" height="16" fill="#1c1c1c"/>
<rect x="298.8" y="766" width="9.4" height="26" fill="#e8e8e8"/>
<rect x="298.8" y="747" width="9.4" height="19" fill="#1c1c1c"/>
<rect x="309.8" y="759" width="12.4" height="36" fill="#8a8a8a"/>
<rect x="309.8" y="740" width="12.4" height="19" fill="#1c1c1c"/>
<path d="M257,765 L323,735" stroke="#6a6a6a" stroke-width="1"/>
</g>
<!-- top buttons -->
<g fill="#3a3a3e">
  <path d="M622,237 C623,230 633,227 636,229 L636,233 Z"/>
  <path d="M640,229 C642,222 652,219 655,221 L655,225 Z"/>
  <path d="M659,221 C661,214 671,211 674,213 L674,217 Z"/>
  <rect x="701" y="202" width="22" height="5" rx="2.5" fill="#1a1a1a"/>
</g>
<!-- screws -->
<ellipse cx="14" cy="542" rx="16" ry="12" fill="#1a1a1c"/>
<ellipse cx="14" cy="541" rx="11" ry="8" fill="#333336"/>
<path d="M6,540 L10,536 L19,536 L22,540 L19,544 L10,544 Z" fill="#5a5a5e"/>
<ellipse cx="710" cy="237" rx="20" ry="10" fill="#1a1a1c"/>
<ellipse cx="710" cy="236.5" rx="14" ry="7" fill="#333336"/>
<path d="M701,236 L705,232 L716,232 L720,236 L716,240 L705,240 Z" fill="#8a8a8e"/>

<!-- ===== ring holder ===== -->
<!-- round recess right of disk -->
<path d="M578,345 L662,344 L662,405 L590,440 L578,432 Z" fill="#48568a"/>
<path d="M578,345 L662,344" fill="none" stroke="#222c58" stroke-width="4"/>
<ellipse cx="618" cy="393" rx="42" ry="39" fill="none" stroke="#2a3463" stroke-width="1.8"/>
<path d="M655,372 C662,392 655,412 635,424" fill="none" stroke="#1e2853" stroke-width="3.5"/>
<path d="M583,442 L645,416 C652,413 656,409 657,403 L662,403 L662,423 L588,466 Z" fill="url(#wallg)"/>
<path d="M590,402 C585,412 588,425 598,433" fill="none" stroke="#1e2853" stroke-width="3"/>
<path d="M545,481 L662,432" fill="none" stroke="#5a6aa4" stroke-width="3" opacity="0.7"/>
<path d="M662,412 L720,411 L720,380 M698,380 L698,414" fill="none" stroke="#222c58" stroke-width="3"/>
<!-- disk shadow & body -->
<ellipse cx="502" cy="438" rx="88" ry="52" fill="#2c3766"/>
<ellipse cx="503" cy="437" rx="85" ry="50" fill="#0c0c0c"/>
<ellipse cx="504" cy="431" rx="84" ry="46" fill="#202020"/>
<ellipse cx="504" cy="433" rx="82" ry="45" fill="#121212"/>
<foreignObject x="425" y="387" width="160" height="82">
  <div style="width:160px;height:82px;border-radius:50%;background:conic-gradient(from 0deg at 49% 54%, #222 0deg, #303030 40deg, #4e4e4e 72deg, #9a9a9a 85deg, #444 98deg, #1e1e1e 130deg, #080808 180deg, #141414 222deg, #3e3e3e 252deg, #929292 265deg, #3e3e3e 278deg, #2e2e2e 315deg, #222 360deg);"></div>
</foreignObject>
<path d="M426,424 C434,402 470,388 505,387 C540,387 575,398 584,420" fill="none" stroke="#5a5a5a" stroke-width="1.3"/>
<!-- ring notches -->
<path d="M450,398 L477,394 L480,404 L455,410 Z" fill="#111"/>
<path d="M546,456 L560,452 L565,466 L550,470 Z" fill="#222"/>
<!-- ring -->
<clipPath id="ringclip"><path d="M455,264 L490,242 L541,271 L575,324 L575,470 L551,470 L551,345 L549,335 L543,318 L533,302 L520,290 L505,284 L490,284 L480,290 L476,300 L476,402 L455,402 Z"/></clipPath>
<g clip-path="url(#ringclip)">
  <rect x="450" y="238" width="130" height="240" fill="url(#silv)"/>
  <path d="M455,292 L460.5,280 L476,271.5 L491.7,271.5 L510,277 L526,286 L541.4,300 L554,316 L560,325 L560,472 L551,472 L551,345 L549,335 L543,318 L533,302 L520,290 L505,284 L490,284 L480,290 L476,300 L476,404 L455,404 Z" fill="#141414"/>
  <path d="M455,300 L476,300 L476,402 L455,402 Z" fill="#161616"/>
  <path d="M457,300 L461,300 L461,400 L457,400 Z" fill="#3a3a3a"/>
  <path d="M455,350 L476,356 L476,362 L455,356 Z" fill="#444" opacity="0.8"/>
  <path d="M562,327 L575,324 L575,372 L562,374 Z" fill="#f6f6f6"/>
  <path d="M562,374 L575,372 L575,470 L562,470 Z" fill="#1c1c1c"/>
  <path d="M562,398 L575,395 L575,403 L562,406 Z" fill="#555"/>
  <path d="M562,432 L575,429 L575,438 L562,441 Z" fill="#4a4a4a"/>
  <path d="M458,263 L490,245 L539,273" fill="none" stroke="#ffffff" stroke-width="1.6"/>
  <path d="M541,271 L575,324" fill="none" stroke="#ffffff" stroke-width="2"/>
  <path d="M455,264 L490,242" fill="none" stroke="#2a2a2a" stroke-width="2"/>
</g>

<!-- ===== arrows ===== -->
<path d="M387,393 C393,338 425,290 475,261 C515,238 565,247 592,272" fill="none" stroke="url(#a1g)" stroke-width="5.5" stroke-linecap="round"/>
<path d="M627.5,311 L579,283.5 L599,279 L608.5,260.5 Z" fill="url(#ahg)"/>
<path d="M283,438 C266,465 263,500 285,527 C318,564 400,578 480,575 C550,572 612,553 640,530" fill="none" stroke="url(#a2g)" stroke-width="4.4" stroke-linecap="round"/>
<path d="M298,401 L263,433 L278,438 L292.6,448 Z" fill="#fba800"/>

<!-- circles -->
<circle cx="678.3" cy="352.2" r="48.5" fill="url(#cg)" opacity="0.9"/>
<circle cx="205" cy="474" r="49" fill="url(#cg)" opacity="0.88"/>
<g font-size="40.5" font-weight="bold" fill="#fff" stroke="#fff" stroke-width="0.3">
<text x="643.5" y="365.8" textLength="78" lengthAdjust="spacingAndGlyphs">100°</text>
<text x="169" y="488.3" textLength="79.5" lengthAdjust="spacingAndGlyphs">360°</text>
</g>

</svg>
</body></html>
